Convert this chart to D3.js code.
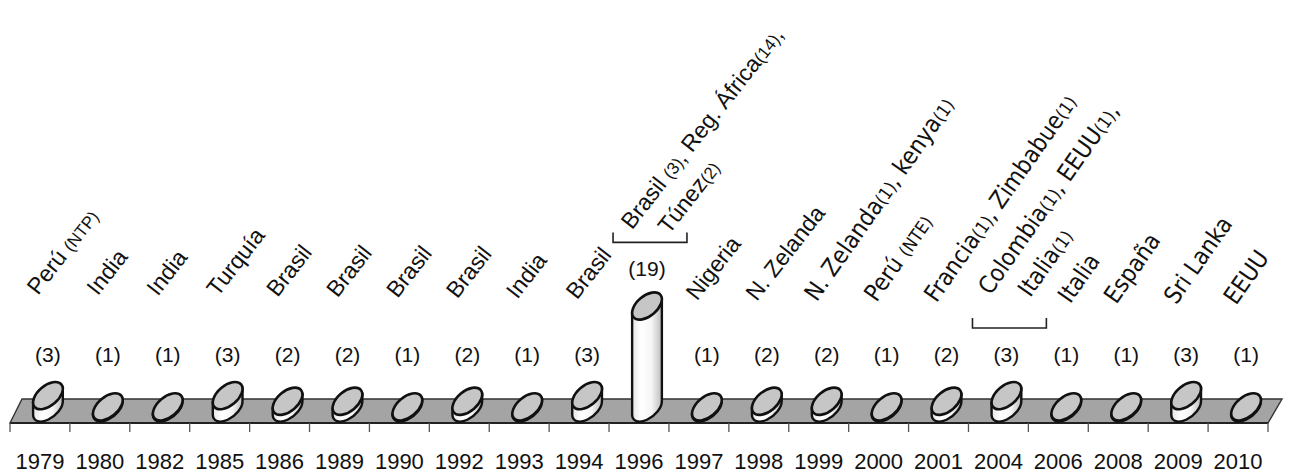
<!DOCTYPE html>
<html lang="es">
<head>
<meta charset="UTF-8">
<title>Cronología</title>
<script src="https://d3js.org/d3.v7.min.js"></script>
<style>
  body { margin: 0; background: #fff; }
  svg { display: block; }
  text { fill: #111; white-space: pre; }
</style>
</head>
<body>
<svg width="1292" height="474"></svg>
<script>
const years = ["1979", "1980", "1982", "1985", "1986", "1989", "1990", "1992", "1993", "1994", "1996",
               "1997", "1998", "1999", "2000", "2001", "2004", "2006", "2008", "2009", "2010"];
const counts = [3, 1, 1, 3, 2, 2, 1, 2, 1, 3, 19, 1, 2, 2, 1, 2, 3, 1, 1, 3, 1];
const countries = [
  ["Perú (NTP)"], ["India"], ["India"], ["Turquía"], ["Brasil"], ["Brasil"], ["Brasil"], ["Brasil"],
  ["India"], ["Brasil"], ["Brasil (3), Reg. África(14),", "Túnez(2)"], ["Nigeria"], ["N. Zelanda"],
  ["N. Zelanda(1), kenya(1)"], ["Perú (NTE)"], ["Francia(1), Zimbabue(1)"],
  ["Colombia(1), EEUU(1),", "Italia(1)"], ["Italia"], ["España"], ["Sri Lanka"], ["EEUU"]
];
const bracketYears = ["1996", "2004"];

const svg = d3.select("svg");
const sans = "'Liberation Sans', Arial, sans-serif";
const tahomaLike = "'DejaVu Sans Condensed', 'DejaVu Sans', sans-serif";

const x = d3.scaleBand().domain(years).range([10, 1268]);
const y = d3.scaleLinear().domain([0.8, 19]).range([408, 306]);
const bw = x.bandwidth();

// cylinder cross-section (tilted ellipse)
const rx = 17.5, ry = 10, rot = -40;
const phi = rot * Math.PI / 180;
const tt = Math.atan(-ry * Math.sin(phi) / (rx * Math.cos(phi)));
const tx = rx * Math.cos(tt) * Math.cos(phi) - ry * Math.sin(tt) * Math.sin(phi);
const ty = rx * Math.cos(tt) * Math.sin(phi) + ry * Math.sin(tt) * Math.cos(phi);
const halfH = Math.sqrt(rx * rx * Math.sin(phi) ** 2 + ry * ry * Math.cos(phi) ** 2);
const cyl = d => x(d) + bw / 2 + 8;

const defs = svg.append("defs");
const grad = defs.append("linearGradient").attr("id", "body").attr("x1", 0).attr("x2", 1);
grad.append("stop").attr("offset", 0).attr("stop-color", "#e4e4e4");
grad.append("stop").attr("offset", 0.3).attr("stop-color", "#ffffff");
grad.append("stop").attr("offset", 0.65).attr("stop-color", "#f6f6f6");
grad.append("stop").attr("offset", 1).attr("stop-color", "#bcbcbc");

// platform
const [L, R] = x.range();
const pTop = 399, pBot = 423;
svg.append("path")
  .attr("d", `M${L},${pBot}L${L + 12},${pTop}L${R + 14},${pTop}L${R},${pBot}Z`)
  .attr("fill", "#a4a4a4")
  .attr("stroke", "#333")
  .attr("stroke-width", 1.4);
svg.append("line")
  .attr("x1", L).attr("x2", R).attr("y1", pBot).attr("y2", pBot)
  .attr("stroke", "#222").attr("stroke-width", 1.8);

// ticks at band edges
svg.append("g").selectAll("line")
  .data(years.map(d => x(d)).concat([R]))
  .join("line")
  .attr("x1", d => d).attr("x2", d => d)
  .attr("y1", pBot).attr("y2", pBot + 9)
  .attr("stroke", "#555").attr("stroke-width", 1.3);

// year labels
const axis = svg.append("g")
  .attr("transform", `translate(0,${pBot})`)
  .call(d3.axisBottom(x).tickSize(0).tickPadding(30));
axis.select(".domain").remove();
axis.selectAll("text")
  .attr("font-family", sans)
  .attr("font-size", 22)
  .attr("fill", "#111");

// cylinders
const data = years.map((d, i) => ({year: d, count: counts[i], label: countries[i], i}));
const base = y.range()[0];
const g = svg.append("g").selectAll("g").data(data).join("g")
  .attr("transform", d => `translate(${cyl(d.year)},0)`);

g.append("path")
  .attr("d", d => {
    const top = y(d.count);
    return `M${-tx},${top - ty}L${-tx},${base - ty}` +
      `A${rx},${ry} ${rot} 0 0 ${tx},${base + ty}L${tx},${top + ty}Z`;
  })
  .attr("fill", "url(#body)")
  .attr("stroke", "#111")
  .attr("stroke-width", 2.4);

g.append("ellipse")
  .attr("cx", 0).attr("cy", d => y(d.count))
  .attr("rx", rx).attr("ry", ry)
  .attr("transform", d => `rotate(${rot},0,${y(d.count)})`)
  .attr("fill", "#c6c6c6")
  .attr("stroke", "#111")
  .attr("stroke-width", 2.6);

// count labels
const countY = d => Math.min(362, y(d.count) - halfH - 16);
g.append("text")
  .attr("y", countY)
  .attr("text-anchor", "middle")
  .attr("font-family", sans)
  .attr("font-size", 21)
  .text(d => `(${d.count})`);

// brackets
svg.append("g").selectAll("path")
  .data(data.filter(d => bracketYears.includes(d.year)))
  .join("path")
  .attr("d", d => {
    const by = countY(d) - 34, x0 = x(d.year) + 4, x1 = x(d.year) + bw + 18;
    return `M${x0},${by - 10}V${by}H${x1}V${by - 10}`;
  })
  .attr("fill", "none")
  .attr("stroke", "#222")
  .attr("stroke-width", 1.6);

// rotated country labels
const labelLayout = {
  "1996": {dx: -7, gap: 32, indent: 19},
  "2004": {dx: -8, y: 296, gap: 34, indent: 21},
  "2006": {dx: 12}
};
function addParts(sel, str) {
  str.split(/(\([^)]*\))/).filter(s => s).forEach(s => {
    sel.append("tspan")
      .attr("font-size", s.startsWith("(") ? "0.74em" : null)
      .text(s);
  });
}
data.forEach(d => {
  const lay = Object.assign({dx: -2, gap: 30, indent: 22}, labelLayout[d.year] || {});
  const right = d.i >= 13;
  const ang = right ? -55 : -52;
  const a = ang * Math.PI / 180;
  const dir = [Math.cos(a), Math.sin(a)];
  const nrm = [-Math.sin(a), Math.cos(a)];
  const y0 = lay.y !== undefined ? lay.y : Math.min(296 + 0.5 * d.i, countY(d) - 46);
  const x0 = x(d.year) + bw / 2 + lay.dx;
  d.label.forEach((line, j) => {
    const px = x0 + j * (lay.gap * nrm[0] + lay.indent * dir[0]);
    const py = y0 + j * (lay.gap * nrm[1] + lay.indent * dir[1]);
    const t = svg.append("text")
      .attr("transform", `translate(${px},${py}) rotate(${ang})`)
      .attr("font-family", right ? tahomaLike : sans)
      .attr("font-size", right ? 24 : 23);
    addParts(t, line);
  });
});
</script>
</body>
</html>
